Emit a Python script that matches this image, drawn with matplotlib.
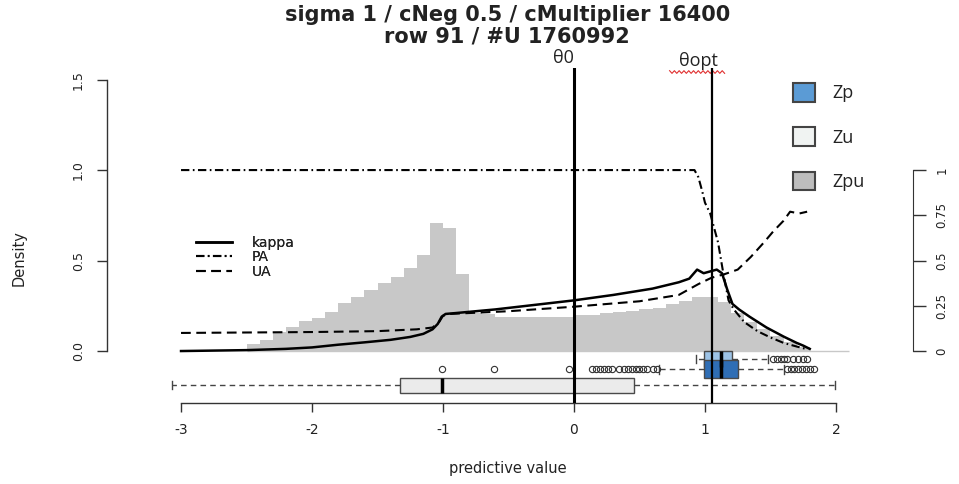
import numpy as np
import matplotlib.pyplot as plt
from matplotlib.patches import Patch

plt.rcParams['font.family'] = 'DejaVu Sans'
plt.rcParams['axes.unicode_minus'] = False
plt.rcParams['lines.scale_dashes'] = False

title = 'sigma 1 / cNeg 0.5 / cMultiplier 16400\nrow 91 / #U 1760992'

# histogram of Zpu predictive values (bins of 0.1 from -2.5 to 2.1)
hist_edges = np.linspace(-2.5, 2.1, 47)
hist_density = [0.037, 0.06, 0.105, 0.134, 0.166, 0.18, 0.217, 0.265, 0.30, 0.337,
                0.375, 0.41, 0.457, 0.53, 0.705, 0.68, 0.425,
                0.21, 0.205, 0.19, 0.19, 0.19, 0.19, 0.19, 0.19, 0.2, 0.2,
                0.21, 0.215, 0.22, 0.23, 0.24, 0.26, 0.275, 0.30, 0.30, 0.27,
                0.21, 0.16, 0.12, 0.085, 0.05, 0.02,
                0.0, 0.0, 0.0]

# kappa / PA / UA curves (right axis, 0..1)
kappa_x = [-3.0, -2.5, -2.2, -2.0, -1.8, -1.6, -1.4, -1.25, -1.15, -1.08, -1.04, -1.01,
           -0.98, -0.9, -0.6, -0.3, 0.0, 0.3, 0.6, 0.8, 0.88, 0.94, 0.99, 1.04, 1.09,
           1.13, 1.17, 1.21, 1.26, 1.34, 1.47, 1.6, 1.7, 1.75, 1.8]
kappa_y = [0.0, 0.005, 0.012, 0.02, 0.035, 0.048, 0.062, 0.078, 0.095, 0.12, 0.15, 0.19,
           0.205, 0.21, 0.23, 0.255, 0.28, 0.31, 0.345, 0.38, 0.40, 0.45, 0.43, 0.44, 0.45,
           0.43, 0.34, 0.26, 0.23, 0.19, 0.13, 0.08, 0.045, 0.03, 0.012]

pa_x = [-3.0, 0.92, 0.95, 0.98, 1.0, 1.04, 1.07, 1.1, 1.14, 1.18, 1.22, 1.3, 1.4, 1.5,
        1.6, 1.7, 1.78]
pa_y = [1.0, 1.0, 0.96, 0.88, 0.82, 0.76, 0.68, 0.6, 0.43, 0.28, 0.23, 0.16, 0.11, 0.075,
        0.045, 0.025, 0.01]

ua_x = [-3.0, -2.0, -1.5, -1.2, -1.08, -1.03, -1.0, -0.95, -0.5, 0.0, 0.5, 0.8, 0.95,
        1.05, 1.15, 1.25, 1.35, 1.45, 1.52, 1.6, 1.65, 1.72, 1.78]
ua_y = [0.1, 0.105, 0.11, 0.12, 0.13, 0.16, 0.195, 0.205, 0.22, 0.245, 0.275, 0.31, 0.37,
        0.405, 0.425, 0.45, 0.52, 0.6, 0.66, 0.72, 0.77, 0.76, 0.77]

# thresholds
theta0 = 0.0
theta_opt = 1.05

# boxplots below the density
box_labels = ['Zp (light)', 'Zp', 'Zu']
box_pos = [-0.044, -0.10, -0.188]
box_q1 = [0.99, 0.99, -1.33]
box_med = [1.12, 1.12, -1.01]
box_q3 = [1.21, 1.25, 0.46]
box_lo = [0.93, 0.65, -3.07]
box_hi = [1.48, 1.60, 1.99]
box_fliers = [
    [1.52, 1.55, 1.58, 1.60, 1.63, 1.67, 1.71, 1.75, 1.78],
    [-1.01, -0.61, -0.04, 0.14, 0.17, 0.20, 0.23, 0.26, 0.29, 0.34, 0.38, 0.41, 0.44,
     0.47, 0.50, 0.53, 0.56, 0.60, 0.63, 1.63, 1.66, 1.68, 1.71, 1.74, 1.77, 1.80, 1.83],
    [],
]
box_colors = ['#9DC3E6', '#2F6EB5', '#EBEBEB']
box_widths = [0.085, 0.1, 0.083]

legend_names = ['Zp', 'Zu', 'Zpu']
legend_colors = ['#5B9BD5', '#F0F3F2', '#BDBDBD']

ink = '#222222'
axcol = '#333333'

fig = plt.figure(figsize=(9.59, 4.84), dpi=100)
ax = fig.add_axes([0.1116, 0.1674, 0.8404, 0.6921])
ax.set_xlim(-3.565, 2.588)
ax.set_ylim(-0.287, 1.564)

ax.stairs(hist_density, hist_edges, fill=True, color='#C8C8C8', lw=0, zorder=1)
ax.hlines(0, hist_edges[0], hist_edges[-1], color='#C8C8C8', lw=1, zorder=1)

l1, = ax.plot(kappa_x, kappa_y, color='black', lw=1.8, label='kappa', zorder=3)
l2, = ax.plot(pa_x, pa_y, color='black', lw=1.5, ls=(0, (6, 2.5, 1.2, 2.5)),
              label='PA', zorder=3)
l3, = ax.plot(ua_x, ua_y, color='black', lw=1.5, ls=(0, (7, 4)), label='UA', zorder=3)

for i in range(len(box_labels)):
    st = dict(label=box_labels[i], q1=box_q1[i], med=box_med[i], q3=box_q3[i],
              whislo=box_lo[i], whishi=box_hi[i], fliers=box_fliers[i])
    ax.bxp([st], positions=[box_pos[i]], widths=box_widths[i], orientation='horizontal',
           patch_artist=True, manage_ticks=False, capwidths=box_widths[i] * 0.5,
           boxprops=dict(facecolor=box_colors[i], edgecolor='#4a4a4a', lw=1),
           medianprops=dict(color='black', lw=2.5),
           whiskerprops=dict(color='#444444', lw=1, ls=(0, (4, 3))),
           capprops=dict(color='#444444', lw=1),
           flierprops=dict(marker='o', markersize=4.5, markerfacecolor='none',
                           markeredgecolor='#333333', markeredgewidth=0.8))

ax.axvline(theta0, color='black', lw=2.2, zorder=5)
ax.axvline(theta_opt, color='black', lw=1.6, zorder=5)
ax.text(theta0 - 0.08, 1.003, 'θ0', transform=ax.get_xaxis_transform(), ha='center',
        va='bottom', fontsize=13, family='Open Sans', color=ink)
ax.text(theta_opt - 0.1, 0.994, 'θopt', transform=ax.get_xaxis_transform(), ha='center',
        va='bottom', fontsize=13, family='Open Sans', color=ink)
# spell-check squiggle under the θopt label
wx = np.linspace(theta_opt - 0.32, theta_opt + 0.1, 24)
wy = 0.988 + 0.004 * np.array([(-1) ** k for k in range(len(wx))])
ax.plot(wx, wy, color='#E03030', lw=0.8, transform=ax.get_xaxis_transform(), clip_on=False)

# R-style axes
for s in ['top', 'right']:
    ax.spines[s].set_visible(False)
ax.spines['left'].set_bounds(0, 1.5)
ax.spines['bottom'].set_bounds(-3, 2)
for s in ['left', 'bottom']:
    ax.spines[s].set_color(axcol)
    ax.spines[s].set_linewidth(1)
ax.set_xticks([-3, -2, -1, 0, 1, 2])
ax.set_yticks([0, 0.5, 1.0, 1.5])
ax.set_yticklabels(['0.0', '0.5', '1.0', '1.5'])
ax.tick_params(axis='x', length=6.5, width=1, color=axcol, labelsize=10, pad=8,
               labelcolor=ink)
ax.tick_params(axis='y', length=7, width=1, color=axcol, labelsize=9, pad=9,
               labelcolor=ink, labelrotation=90)
for t in ax.get_yticklabels():
    t.set_va('center')

ax2 = ax.twinx()
ax2.set_ylim(ax.get_ylim())
for s in ['top', 'left', 'bottom']:
    ax2.spines[s].set_visible(False)
ax2.spines['right'].set_bounds(0, 1)
ax2.spines['right'].set_color(axcol)
ax2.set_yticks([0, 0.25, 0.5, 0.75, 1])
ax2.set_yticklabels(['0', '0.25', '0.5', '0.75', '1'])
ax2.tick_params(axis='y', length=9, width=1, color=axcol, labelsize=8.5, pad=7,
                labelcolor=ink, labelrotation=90)
for t in ax2.get_yticklabels():
    t.set_va('center')

ax.set_ylabel('Density', fontsize=10.5, color=ink)
ax.yaxis.set_label_coords(-0.1, 0.433)
ax.set_xlabel('predictive value', fontsize=10.5, color=ink)
ax.xaxis.set_label_coords(0.4975, -0.173)

fig.text(0.529, 0.99, title, ha='center', va='top', fontsize=15, fontweight='bold',
         color=ink, linespacing=1.12)

leg1 = ax.legend(handles=[l1, l2, l3], loc='upper left', bbox_to_anchor=(0.2044, 0.5125),
                 bbox_transform=fig.transFigure, frameon=False, fontsize=10,
                 handlelength=2.6, handletextpad=1.4, labelspacing=0.02,
                 borderpad=0, borderaxespad=0)
for t in leg1.get_texts():
    t.set_color(ink)
ax.add_artist(leg1)

patches = [Patch(facecolor=legend_colors[i], edgecolor='#444444', lw=1.5,
                 label=legend_names[i]) for i in range(len(legend_names))]
leg2 = ax2.legend(handles=patches, loc='upper left', bbox_to_anchor=(0.8269, 0.8285),
                  bbox_transform=fig.transFigure, frameon=False,
                  prop={'family': 'Open Sans', 'size': 13},
                  handlelength=1.2, handleheight=1.2, handletextpad=1.0,
                  labelspacing=1.38, borderpad=0, borderaxespad=0)
for t in leg2.get_texts():
    t.set_color(ink)

fig.savefig('out.png', dpi=100)
